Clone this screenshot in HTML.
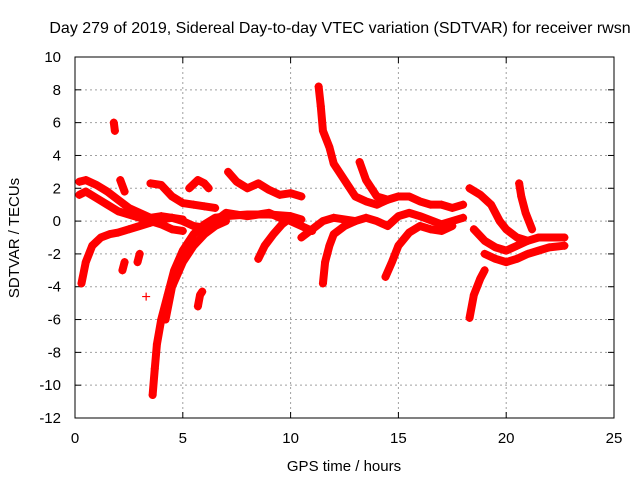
<!DOCTYPE html>
<html><head><meta charset="utf-8"><style>
body{margin:0;background:#fff}
svg{display:block;font-family:"Liberation Sans",sans-serif}
</style></head><body>
<svg id="chart" width="640" height="480">
<text x="340" y="33" font-size="16" text-anchor="middle">Day 279 of 2019, Sidereal Day-to-day VTEC variation (SDTVAR) for receiver rwsn</text>
<text x="344" y="471" font-size="15" text-anchor="middle">GPS time / hours</text>
<text transform="translate(19,238) rotate(-90)" font-size="15" text-anchor="middle">SDTVAR / TECUs</text>
<g id="grid"></g><g id="ticks"></g><g id="marks"></g>
<rect x="75" y="57" width="539" height="361" fill="none" stroke="#000" stroke-width="1"/>
</svg>
<script>
const xTicks=[0,5,10,15,20,25];
const yTicks=[10,8,6,4,2,0,-2,-4,-6,-8,-10,-12];
const tracks=[
[[0.2,2.4],[0.5,2.5],[1,2.2],[1.5,1.8],[2,1.3],[2.5,0.8],[3,0.5],[3.5,0.2],[4,0.3],[4.5,0.2],[5,0],[5.5,-0.3],[6,-0.4]],
[[0.2,1.6],[0.5,1.8],[1,1.4],[1.5,1.0],[2,0.6],[2.5,0.4],[3,0.2],[3.5,0],[4,-0.2],[4.5,-0.5],[5,-0.6]],
[[0.3,-3.8],[0.5,-2.5],[0.8,-1.5],[1.2,-1],[1.6,-0.8],[2,-0.7],[2.5,-0.5],[3,-0.3],[3.5,-0.1],[4,0.1],[4.5,0.2],[5,0.1]],
[[3.6,-10.6],[3.7,-9],[3.8,-7.5],[4,-6],[4.3,-4.5],[4.6,-3],[5,-1.8],[5.5,-0.8],[6,-0.2],[6.5,0.2],[7,0.3],[8,0.4],[9,0.4],[10,0.3],[10.5,0.1]],
[[4.2,-6],[4.5,-4],[5,-2.5],[5.5,-1.5],[6,-0.8],[6.5,-0.3],[7,0]],
[[3.5,2.3],[4,2.2],[4.5,1.5],[5,1.1],[5.5,1.0],[6,0.9],[6.5,0.8]],
[[5.3,2.0],[5.7,2.5],[6,2.3],[6.2,2.0]],
[[7.1,3],[7.5,2.4],[8,2.0],[8.5,2.3],[9,1.9],[9.5,1.6],[10,1.7],[10.5,1.5]],
[[6.5,0],[7,0.5],[7.5,0.4],[8,0.3],[9,0.5],[9.5,0.2],[10,0],[10.5,-0.3],[11,-0.6]],
[[8.5,-2.3],[8.8,-1.5],[9.2,-0.8],[9.6,-0.2],[10,0.2]],
[[11.3,8.2],[11.4,7],[11.5,5.5],[11.8,4.5],[12,3.5],[12.5,2.5],[13,1.5],[13.5,1.2],[14,1.0],[14.5,1.3],[15,1.5],[15.5,1.5],[16,1.2],[16.5,1.0],[17,1.0],[17.5,0.8],[18,1.0]],
[[13.2,3.6],[13.5,2.5],[14,1.5],[14.5,1.3]],
[[11.5,-3.8],[11.6,-2.5],[11.8,-1.5],[12,-0.8],[12.5,-0.3],[13,0],[13.5,0.2],[14,0],[14.5,-0.3],[15,0.3],[15.5,0.5],[16,0.3],[17,-0.2],[17.5,0],[18,0.2]],
[[14.4,-3.4],[14.7,-2.5],[15,-1.5],[15.5,-0.7],[16,-0.3],[16.5,-0.5],[17,-0.6],[17.5,-0.3]],
[[10.5,-1],[11,-0.5],[11.5,0],[12,0.2],[12.5,0.1],[13,0]],
[[18.3,2],[18.8,1.6],[19.3,1.0],[19.7,0],[20,-0.5],[20.5,-1],[21,-1.2],[21.5,-1],[22,-1],[22.7,-1]],
[[18.5,-0.5],[19,-1.2],[19.5,-1.6],[20,-1.8],[20.5,-1.5],[21,-1.2]],
[[18.3,-5.9],[18.5,-4.5],[18.8,-3.5],[19,-3]],
[[19,-2],[19.5,-2.3],[20,-2.5],[20.5,-2.3],[21,-2],[21.5,-1.8],[22,-1.6],[22.7,-1.5]],
[[20.6,2.3],[20.7,1.5],[20.9,0.5],[21.2,-0.5]],
[[1.8,6],[1.85,5.5]],
[[2.1,2.5],[2.3,1.8]],
[[2.2,-3],[2.3,-2.5]],
[[2.9,-2.5],[3.0,-2]],
[[3.3,-4.6]],
[[5.7,-5.2],[5.8,-4.5],[5.9,-4.3]]
];
const NS="http://www.w3.org/2000/svg";
const X0=75,X1=614,Y0=418,Y1=57;
function sx(t){return X0+(t-0)/(25-0)*(X1-X0);}
function sy(v){return Y0-(v-(-12))/(10-(-12))*(Y0-Y1);}
const grid=document.getElementById('grid'),ticks=document.getElementById('ticks'),marks=document.getElementById('marks');
function mk(tag,attrs,parent){const e=document.createElementNS(NS,tag);for(const k in attrs)e.setAttribute(k,attrs[k]);parent.appendChild(e);return e;}
xTicks.forEach(t=>{
  const x=sx(t);
  if(t>0&&t<25){const g=mk('line',{x1:x,x2:x,y1:Y1,y2:Y0,stroke:'#a0a0a0','stroke-dasharray':'2,3'},grid);
  
  }
  const l=mk('text',{x:x,y:443,'font-size':15,'text-anchor':'middle'},ticks);l.textContent=t;
  
  
  mk('line',{x1:x,x2:x,y1:Y0,y2:Y0-6,stroke:'#000'},ticks);
  mk('line',{x1:x,x2:x,y1:Y1,y2:Y1+6,stroke:'#000'},ticks);
});
yTicks.forEach(v=>{
  const y=sy(v);
  if(v>-12&&v<10){const g=mk('line',{x1:X0,x2:X1,y1:y,y2:y,stroke:'#a0a0a0','stroke-dasharray':'2,3'},grid);
  
  }
  const l=mk('text',{x:61,y:y+5,'font-size':15,'text-anchor':'end'},ticks);l.textContent=v;
  
  
  mk('line',{x1:X0,x2:X0+6,y1:y,y2:y,stroke:'#000'},ticks);
  mk('line',{x1:X1,x2:X1-6,y1:y,y2:y,stroke:'#000'},ticks);
});
tracks.forEach((tr,i)=>{
  if(tr.length>1){
    const p=mk('polyline',{points:tr.map(d=>sx(d[0])+','+sy(d[1])).join(' '),fill:'none',stroke:'#f00','stroke-width':8,'stroke-linejoin':'round','stroke-linecap':'round'},marks);
    
    
  }
  tr.forEach(d=>{
    const x=sx(d[0]),y=sy(d[1]);
    const m=mk('path',{d:`M${x-4},${y}H${x+4}M${x},${y-4}V${y+4}`,stroke:'#f00','stroke-width':1.2},marks);
    
    
  });
});
</script>
</body></html>
